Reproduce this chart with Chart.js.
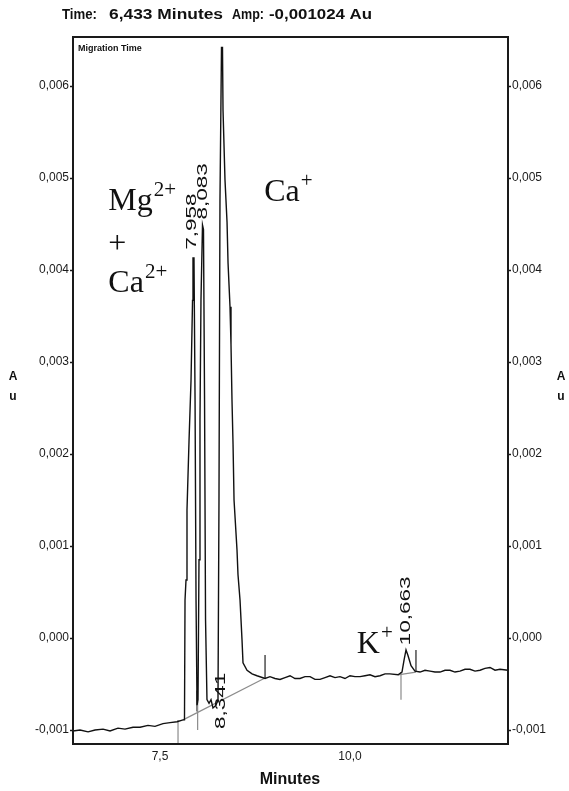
<!DOCTYPE html>
<html>
<head>
<meta charset="utf-8">
<script src="https://cdn.jsdelivr.net/npm/chart.js@4.4.0/dist/chart.umd.min.js"></script>
<style>
html, body { margin: 0; padding: 0; background: #fff; }
#wrap { width: 569px; height: 791px; position: relative; }
</style>
</head>
<body>
<div id="wrap"><canvas id="electro" width="569" height="791"></canvas></div>
<script>
// electropherogram trace (minutes / absorbance units)
const traceMinutes = [
    6.355, 6.447, 6.553, 6.645, 6.750, 6.842, 6.947, 7.039, 7.145, 7.237,
    7.342, 7.434, 7.539, 7.632, 7.724, 7.803, 7.822, 7.829, 7.842, 7.855,
    7.882, 7.908, 7.928, 7.934, 7.947, 7.961, 7.974, 7.987, 8.000, 8.013,
    8.026, 8.039, 8.059, 8.072, 8.086, 8.099, 8.118, 8.145, 8.171, 8.197,
    8.237, 8.263, 8.276, 8.289, 8.309, 8.322, 8.329, 8.355, 8.382, 8.395,
    8.421, 8.434, 8.447, 8.461, 8.474, 8.513, 8.526, 8.553, 8.579, 8.592,
    8.645, 8.711, 8.776, 8.882, 8.947, 9.013, 9.079, 9.145, 9.211, 9.276,
    9.342, 9.408, 9.474, 9.539, 9.605, 9.671, 9.737, 9.803, 9.868, 9.934,
    10.000, 10.066, 10.132, 10.197, 10.263, 10.329, 10.395, 10.461, 10.526, 10.632,
    10.684, 10.711, 10.737, 10.763, 10.803, 10.855, 10.921, 10.987, 11.053, 11.118,
    11.184, 11.250, 11.316, 11.382, 11.447, 11.513, 11.579, 11.645, 11.711, 11.776,
    11.842, 11.908, 11.974, 12.079
];
const traceAu = [
    -0.00101, -0.00100, -0.00102, -0.00100, -0.00099, -0.00101, -0.00098, -0.00099, -0.00097, -0.00097,
    -0.00095, -0.00096, -0.00093, -0.00092, -0.00091, -0.00089, -0.00089, 0.00041, 0.00063, 0.00139,
    0.00215, 0.00280, 0.00367, 0.00413, 0.00413, 0.00259, 0.00041, -0.00073, -0.00067, 0.00085,
    0.00237, 0.00367, 0.00449, 0.00444, 0.00259, 0.00020, -0.00067, -0.00071, -0.00067, -0.00076,
    -0.00073, -0.00067, 0.00150, 0.00476, 0.00642, 0.00642, 0.00574, 0.00498, 0.00452, 0.00408,
    0.00360, 0.00319, 0.00259, 0.00210, 0.00150, 0.00096, 0.00069, 0.00041, -0.00002, -0.00027,
    -0.00035, -0.00039, -0.00041, -0.00044, -0.00042, -0.00044, -0.00045, -0.00043, -0.00041, -0.00044,
    -0.00044, -0.00042, -0.00042, -0.00045, -0.00045, -0.00043, -0.00041, -0.00043, -0.00042, -0.00044,
    -0.00041, -0.00042, -0.00042, -0.00041, -0.00040, -0.00042, -0.00041, -0.00039, -0.00039, -0.00040,
    -0.00037, -0.00024, -0.00013, -0.00019, -0.00030, -0.00036, -0.00037, -0.00035, -0.00036, -0.00037,
    -0.00037, -0.00035, -0.00035, -0.00037, -0.00036, -0.00034, -0.00034, -0.00036, -0.00035, -0.00033,
    -0.00032, -0.00035, -0.00034, -0.00035
];

// integration baselines (grey)
const baselineMinutes = [7.803, 8.882, null, 10.632, 10.868];
const baselineAu = [-0.00089, -0.000435, null, -0.00040, -0.00037];

// peak start / end markers
const greyMarkMinutes = [7.737, 7.737, null, 7.995, 7.995, null, 10.671, 10.671];
const greyMarkAu = [-0.00089, -0.00115, null, -0.00069, -0.00100, null, -0.00037, -0.00067];
const blackMarkMinutes = [8.882, 8.882, null, 10.868, 10.868, null, 7.987, 7.987];
const blackMarkAu = [-0.000185, -0.000435, null, -0.00013, -0.00037, null, -0.00057, -0.00080];

const peakLabels = ['7,958', '8,083', '8,341', '10,663'];

const xTickValues = [7.5, 10.0];
const yTickValues = [-0.001, 0.000, 0.001, 0.002, 0.003, 0.004, 0.005, 0.006];

const toPoints = (xs, ys) => xs.map((v, i) => ({ x: v === null ? NaN : v, y: ys[i] }));
const comma = (v, d) => v.toFixed(d).replace('.', ',');

// the instrument font is wider than Arial, so stretch each piece to its width
const fitText = (ctx, text, px, py, w) => {
    const sx = w / ctx.measureText(text).width;
    ctx.save();
    ctx.translate(px, py);
    ctx.scale(sx, 1);
    ctx.fillText(text, 0, 0);
    ctx.restore();
};

const drawIon = (ctx, base, sup, px, py) => {
    ctx.font = '32px "Liberation Serif", "Times New Roman", serif';
    ctx.textAlign = 'left';
    ctx.textBaseline = 'alphabetic';
    ctx.fillText(base, px, py);
    const w = ctx.measureText(base).width;
    ctx.font = '21px "Liberation Serif", "Times New Roman", serif';
    ctx.fillText(sup, px + w + 1, py - 14);
};

const pluginDecor = {
    id: 'decor',
    afterDraw(chart, args, opts) {
        const { ctx, chartArea: { left, top, right, bottom }, scales: { x, y } } = chart;
        ctx.save();
        ctx.fillStyle = '#111';
        ctx.strokeStyle = '#1a1a1a';

        // frame
        ctx.lineWidth = 2;
        ctx.strokeRect(left, top, right - left, bottom - top);

        // header
        ctx.font = 'bold 14px "Liberation Sans", Arial, sans-serif';
        ctx.textBaseline = 'middle';
        ctx.textAlign = 'left';
        fitText(ctx, 'Time:', 62, 15, 35);
        fitText(ctx, '6,433 Minutes', 109, 15, 114);
        fitText(ctx, 'Amp:', 232, 15, 32);
        fitText(ctx, '-0,001024 Au', 269, 15, 103);

        ctx.font = 'bold 9px "Liberation Sans", Arial, sans-serif';
        ctx.fillText('Migration Time', left + 5, top + 12);

        // axis titles
        ctx.font = 'bold 16px "Liberation Sans", Arial, sans-serif';
        ctx.textAlign = 'center';
        ctx.fillText('Minutes', 290, 780);
        ctx.font = 'bold 12px "Liberation Sans", Arial, sans-serif';
        ['A', 'u'].forEach((c, i) => {
            ctx.fillText(c, 13, 377 + i * 20);
            ctx.fillText(c, 561, 377 + i * 20);
        });

        // rotated peak labels
        ctx.font = '15px "Liberation Sans", Arial, sans-serif';
        opts.peaks.forEach((p, i) => {
            ctx.save();
            ctx.translate(x.getPixelForValue(p.x), y.getPixelForValue(p.y));
            ctx.rotate(-Math.PI / 2);
            ctx.scale(1.5, 1);
            ctx.textAlign = 'left';
            ctx.textBaseline = 'middle';
            ctx.fillText(peakLabels[i], 0, 0);
            ctx.restore();
        });

        // ion names
        opts.ions.forEach(ion => {
            drawIon(ctx, ion.base, ion.sup, x.getPixelForValue(ion.x), y.getPixelForValue(ion.y));
        });
        ctx.restore();
    }
};

const axisGrid = {
    display: true,
    drawOnChartArea: false,
    drawTicks: true,
    tickLength: 3,
    tickWidth: 1.5,
    color: '#1a1a1a'
};

const yAxis = (position, width) => ({
    type: 'linear',
    position,
    min: -0.001152,
    max: 0.006533,
    afterBuildTicks: ax => { ax.ticks = yTickValues.map(v => ({ value: v })); },
    afterFit: s => { s.width = width; },
    ticks: {
        callback: v => comma(v, 3),
        font: { size: 12, family: '"Liberation Sans", Arial, sans-serif' },
        color: '#1a1a1a',
        padding: 1,
        autoSkip: false
    },
    grid: axisGrid,
    border: { display: false }
});

const config = {
    type: 'line',
    data: {
        datasets: [
            {
                data: toPoints(traceMinutes, traceAu),
                borderColor: '#111',
                borderWidth: 1.4,
                pointRadius: 0
            },
            {
                data: toPoints(baselineMinutes, baselineAu),
                borderColor: '#8c8c8c',
                borderWidth: 1.2,
                pointRadius: 0,
                spanGaps: false
            },
            {
                data: toPoints(greyMarkMinutes, greyMarkAu),
                borderColor: '#8c8c8c',
                borderWidth: 1.2,
                pointRadius: 0,
                spanGaps: false
            },
            {
                data: toPoints(blackMarkMinutes, blackMarkAu),
                borderColor: '#222',
                borderWidth: 1.2,
                pointRadius: 0,
                spanGaps: false
            }
        ]
    },
    plugins: [pluginDecor],
    options: {
        responsive: false,
        animation: false,
        layout: { padding: { top: 37, left: 0, right: 0, bottom: 0 } },
        scales: {
            x: {
                type: 'linear',
                position: 'bottom',
                min: 6.355,
                max: 12.079,
                afterBuildTicks: ax => { ax.ticks = xTickValues.map(v => ({ value: v })); },
                afterFit: s => { s.height = 47; },
                ticks: {
                    callback: v => comma(v, 1),
                    font: { size: 12, family: '"Liberation Sans", Arial, sans-serif' },
                    color: '#1a1a1a',
                    padding: 5,
                    maxRotation: 0,
                    autoSkip: false
                },
                grid: { display: true, drawOnChartArea: false, drawTicks: false, color: '#1a1a1a' },
                border: { display: false }
            },
            y: yAxis('left', 73),
            y2: yAxis('right', 61)
        },
        plugins: {
            legend: { display: false },
            tooltip: { enabled: false },
            decor: {
                peaks: [
                    { x: 7.921, y: 0.00422 },
                    { x: 8.066, y: 0.00455 },
                    { x: 8.303, y: -0.00099 },
                    { x: 10.737, y: -0.00008 }
                ],
                ions: [
                    { base: 'Mg', sup: '2+', x: 6.82, y: 0.00465 },
                    { base: 'Ca', sup: '2+', x: 6.82, y: 0.00376 },
                    { base: '+', sup: '', x: 6.82, y: 0.00418 },
                    { base: 'Ca', sup: '+', x: 8.87, y: 0.00475 },
                    { base: 'K', sup: '+', x: 10.09, y: -0.00016 }
                ]
            }
        }
    }
};

new Chart(document.getElementById('electro'), config);
</script>
</body>
</html>
